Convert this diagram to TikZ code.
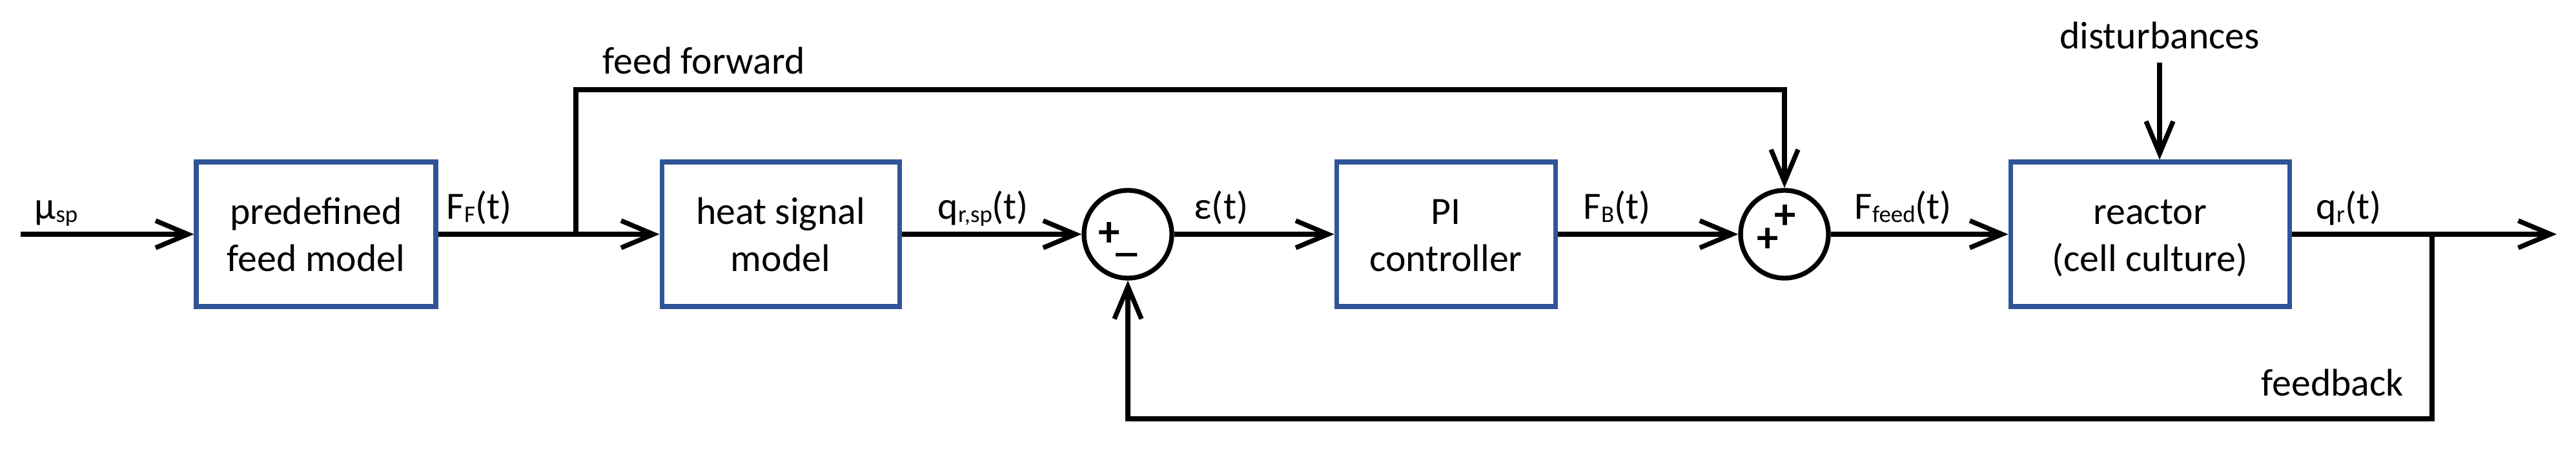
\documentclass[tikz,border=0pt]{standalone}
\usepackage{fontspec}
\setmainfont{Carlito}
\usetikzlibrary{arrows.meta, calc, positioning}
\definecolor{boxblue}{RGB}{47,85,151}
\newcommand\sbs[1]{\raisebox{-0.08em}{\fontsize{10.5}{10.5}\selectfont #1}}
\newcommand\bstrut{\rule{0pt}{0.42cm}}

\begin{document}
\begin{tikzpicture}[font=\fontsize{17}{20.8}\selectfont,
  blk/.style={draw=boxblue, line width=2pt, minimum height=2.24cm, inner sep=0pt, align=center},
  sumnode/.style={draw, circle, line width=2.1pt, minimum size=1.36cm, inner sep=0pt},
  sig/.style={line width=2.1pt, -{Straight Barb[length=5mm, width=4.2mm]}},
  lbl/.style={anchor=base west, inner sep=0pt},
  sgn/.style={inner sep=0pt, font=\fontsize{19}{19}\selectfont\bfseries}]
\useasboundingbox (0,0) rectangle (39.90,7.02);
\node[blk, minimum width=3.71cm] (feedmodel) at (4.895,3.39) {\bstrut predefined\\feed model};
\node[blk, minimum width=3.68cm] (heatmodel) at (12.09,3.39) {\bstrut heat signal\\model};
\node[blk, minimum width=3.39cm] (pictrl) at (22.395,3.39) {\bstrut PI\\controller};
\node[blk, minimum width=4.32cm] (reactor) at (33.30,3.39) {\bstrut reactor\\\smash{(cell culture)}};
\node[sumnode] (sum1) at (17.47,3.39) {};
\node[sumnode] (sum2) at (27.64,3.39) {};
\node[sgn] at (17.18,3.39) {+};
\node[sgn] at (17.45,3.09) {\_};
\node[sgn] at (27.65,3.66) {+};
\node[sgn] at (27.38,3.30) {+};
\coordinate (in) at (0.32,3.39);
\coordinate (split) at (8.92,3.39);
\coordinate (fftop) at (8.92,5.63);
\coordinate (fbsplit) at (37.67,3.39);
\coordinate (fbbottom) at (37.67,0.53);
\coordinate (out) at (39.60,3.39);
\node[anchor=base, inner sep=0pt] (dist) at (33.45,6.26) {disturbances};
\draw[sig] (in) -- (feedmodel);
\draw[sig] (feedmodel) -- (heatmodel);
\draw[sig] (split) -- (fftop) -| (sum2);
\draw[sig] (heatmodel) -- (sum1);
\draw[sig] (sum1) -- (pictrl);
\draw[sig] (pictrl) -- (sum2);
\draw[sig] (sum2) -- (reactor);
\draw[sig] (reactor) -- (out);
\draw[sig] (fbsplit) -- (fbbottom) -| (sum1);
\draw[sig, shorten <=0.2cm] (dist) -- (dist |- reactor.north);
\node[lbl] at (0.53,3.62) {μ\sbs{sp}};
\node[lbl] at (6.91,3.62) {F\sbs{F}(t)};
\node[lbl] at (9.33,5.87) {feed forward};
\node[lbl] at (14.52,3.62) {q\sbs{r,sp}(t)};
\node[lbl] at (18.49,3.62) {ε(t)};
\node[lbl] at (24.52,3.62) {F\sbs{B}(t)};
\node[lbl] at (28.72,3.62) {F\sbs{feed}(t)};
\node[lbl] at (35.87,3.62) {q\sbs{r}(t)};
\node[lbl] at (35.02,0.88) {feedback};
\end{tikzpicture}
\end{document}
